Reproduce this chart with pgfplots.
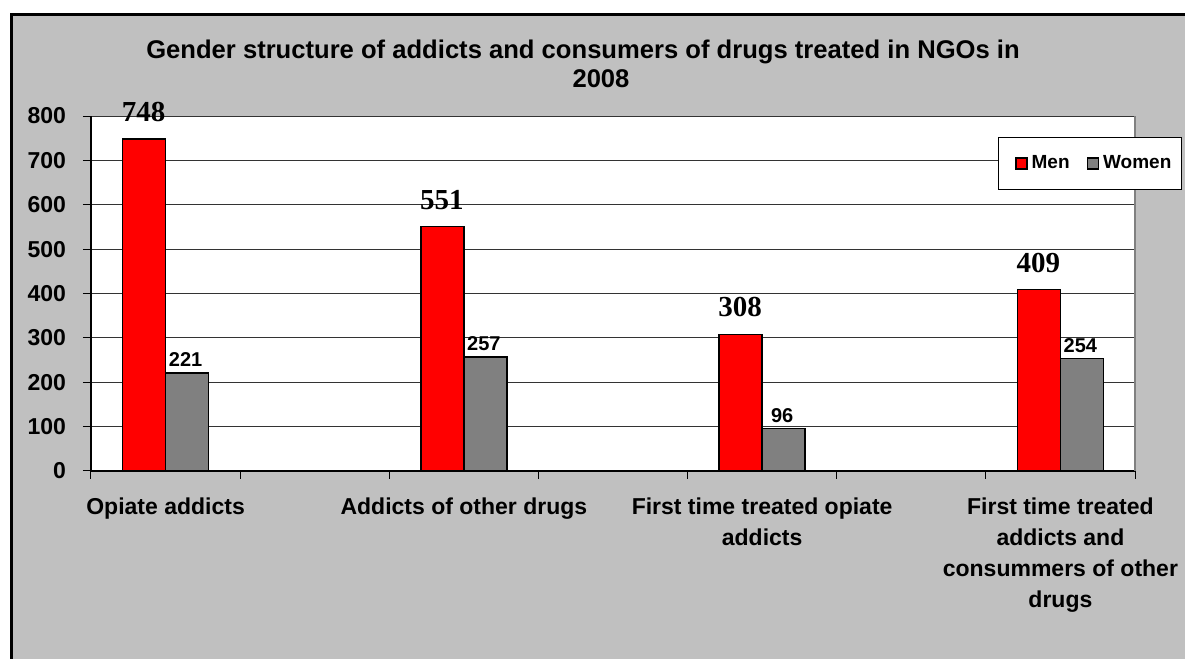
\documentclass[border=0pt]{standalone}
\usepackage{fontspec}
\setmainfont{Liberation Sans}
\newfontfamily\seriffont{Liberation Serif}
\usepackage{pgfplots}
\usepackage{pgfplotstable}
\pgfplotsset{compat=1.18}
\definecolor{bgGray}{HTML}{C0C0C0}
\definecolor{barRed}{HTML}{FF0000}
\definecolor{barGray}{HTML}{808080}

\pgfplotstableread{
x men women
0 748 221
2 551 257
4 308 96
6 409 254
}\datatable

\begin{document}
\begin{tikzpicture}
\useasboundingbox (0,0) rectangle (592.5pt,329.5pt);
\fill[white] (0,0) rectangle (592.5pt,329.5pt);
\clip (0,0) rectangle (592.5pt,329.5pt);
\filldraw[fill=bgGray, draw=black, line width=1.3pt] (5.6pt,-10pt) rectangle (610pt,322.3pt);
\begin{axis}[
  at={(45.5pt,94pt)}, anchor=south west,
  scale only axis, width=522pt, height=177.5pt,
  xmin=-0.5, xmax=6.5, ymin=0, ymax=800,
  axis background/.style={fill=white},
  axis x line*=bottom, axis y line*=left,
  axis line style={black, line width=0.6pt},
  ytick={0,100,...,800},
  ymajorgrids, grid style={black!80, line width=0.5pt},
  tick align=outside, major tick length=4pt, minor tick length=4pt,
  tick style={black, line width=0.5pt},
  xtick={0,2,4,6},
  xticklabels={Opiate addicts, Addicts of other drugs, {First time treated opiate\\addicts}, {First time treated\\addicts and\\consummers of other\\drugs}},
  major x tick style={draw=none},
  minor xtick={-0.5,0.5,...,6.5},
  minor x tick style={draw=black, line width=0.5pt},
  xticklabel style={align=center, font=\bfseries\fontsize{11.5}{15.5}\selectfont, yshift=-6pt},
  yticklabel style={font=\bfseries\fontsize{11.5}{13}\selectfont, xshift=-5pt},
  /pgf/number format/assume math mode=true,
  legend style={at={(1.045,0.9408)}, anchor=north east, legend columns=2,
    draw=black, line width=0.6pt, fill=white,
    font=\bfseries\fontsize{9.5}{11}\selectfont, inner xsep=3pt, inner ysep=7pt,
    /tikz/every even column/.append style={column sep=1pt}},
  after end axis/.code={\draw[barGray, line width=0.6pt] (rel axis cs:1,0) -- (rel axis cs:1,1);},
]
\addplot[ybar, bar width=0.288, bar shift=-0.144, fill=barRed, draw=black, line width=0.7pt,
  legend image code/.code={\path (-5.5pt,0pt); \draw[fill=barRed, draw=black, line width=0.8pt] (0pt,-2.75pt) rectangle (5.5pt,2.75pt);},
  nodes near coords,
  every node near coord/.append style={font=\seriffont\bfseries\fontsize{14.5}{16}\selectfont, anchor=base, yshift=8.75pt, xshift=-11pt, text=black}]
  table[x=x,y=men]{\datatable};
\addplot[ybar, bar width=0.288, bar shift=0.144, fill=barGray, draw=black, line width=0.7pt,
  legend image code/.code={\path (-5.5pt,0pt); \draw[fill=barGray, draw=black, line width=0.8pt] (0pt,-2.75pt) rectangle (5.5pt,2.75pt);},
  nodes near coords,
  every node near coord/.append style={font=\bfseries\fontsize{10}{12}\selectfont, anchor=base, yshift=3pt, xshift=10pt, text=black}]
  table[x=x,y=women]{\datatable};
\legend{Men,Women}
\end{axis}
\node[anchor=base, font=\bfseries\fontsize{12.8}{15}\selectfont] at (291.5pt,300.35pt) {Gender structure of addicts and consumers of drugs treated in NGOs in};
\node[anchor=base, font=\bfseries\fontsize{12.8}{15}\selectfont] at (300.5pt,285.5pt) {2008};
\end{tikzpicture}
\end{document}
